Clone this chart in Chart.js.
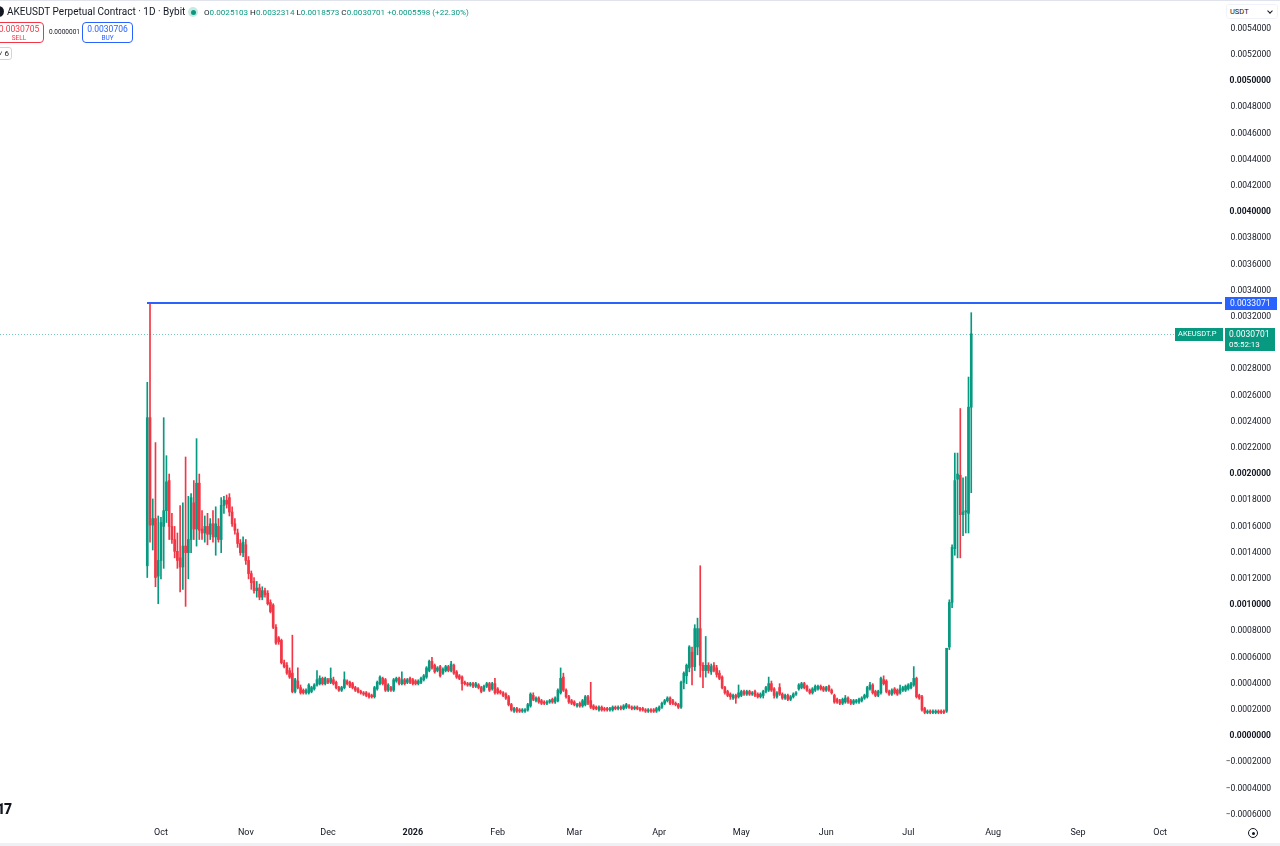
<!DOCTYPE html>
<html>
<head>
<meta charset="utf-8">
<title>AKEUSDT Perpetual Contract · 1D · Bybit</title>
<script src="https://cdn.jsdelivr.net/npm/chart.js@4.4.1/dist/chart.umd.min.js"></script>
<style>
  html, body { margin: 0; padding: 0; background: #fff; overflow: hidden; }
  #wrap { position: relative; width: 1280px; height: 846px; overflow: hidden;
          font-family: Roboto, "Liberation Sans", sans-serif; color: #131722; }
  #chart { position: absolute; left: 0; top: 0; }
  .abs { position: absolute; white-space: nowrap; }
  #topline { left: 0; top: 0; width: 1280px; height: 1px; background: #e0e3eb; }
  #botline { left: 0; top: 843px; width: 1280px; height: 3px; background: #eef0f4; }
  #logo { left: -7px; top: 6px; width: 11px; height: 11px; border-radius: 50%; background: #131722; }
  #title { left: 7px; top: 5px; font-size: 10px; line-height: 14px; }
  #dot { left: 188px; top: 7px; width: 10px; height: 10px; border-radius: 50%; background: rgba(8,153,129,0.22); }
  #dot i { position: absolute; left: 2.5px; top: 2.5px; width: 5px; height: 5px; border-radius: 50%; background: #089981; }
  #ohlc { left: 204px; top: 7px; font-size: 8.1px; line-height: 11px; }
  #ohlc b { font-weight: normal; color: #089981; }
  .btn { top: 22px; height: 21px; border: 1px solid; border-radius: 4px; text-align: center;
         font-size: 8.5px; line-height: 9px; padding-top: 1.5px; box-sizing: border-box; }
  .btn span { display: block; font-size: 6.5px; line-height: 9px; }
  #sell { left: -6px; width: 50px; border-color: #f23645; color: #f23645; }
  #buy { left: 82px; width: 51px; border-color: #2962ff; color: #2962ff; }
  #spread { left: 49px; top: 28px; font-size: 6.5px; line-height: 9px; }
  #lots { left: -4px; top: 47px; width: 16px; height: 13px; border: 1px solid #d1d4dc; border-radius: 3px;
          font-size: 8px; line-height: 12px; text-align: right; padding-right: 2px; box-sizing: border-box; }
  #unit { left: 1226px; top: 4px; width: 52px; height: 15px; border-radius: 3px; background: #fff;
          font-size: 7.5px; line-height: 14px; padding-left: 3px; box-sizing: border-box; border: 1px solid #f0f3fa; }
  #unit i { position: absolute; right: 5px; top: 4px; width: 3px; height: 3px;
            border-right: 1px solid #131722; border-bottom: 1px solid #131722; transform: rotate(45deg); }
  #tv { left: -3px; top: 801px; font-size: 14px; font-weight: 900; letter-spacing: -1px; line-height: 16px; }
  #gear { left: 1248px; top: 828px; width: 8px; height: 8px; border: 1.3px solid #131722; border-radius: 50%; }
  #gear i { position: absolute; left: 2.5px; top: 2.5px; width: 3px; height: 3px; border-radius: 50%; background: #131722; }
</style>
</head>
<body>
<div id="wrap">
  <canvas id="chart" width="1280" height="846"></canvas>
  <div id="topline" class="abs"></div>
  <div id="botline" class="abs"></div>
  <div id="logo" class="abs"></div>
  <div id="title" class="abs">AKEUSDT Perpetual Contract · 1D · Bybit</div>
  <div id="dot" class="abs"><i></i></div>
  <div id="ohlc" class="abs">O<b>0.0025103</b> H<b>0.0032314</b> L<b>0.0018573</b> C<b>0.0030701</b> <b>+0.0005598 (+22.30%)</b></div>
  <div id="sell" class="abs btn">0.0030705<span>SELL</span></div>
  <div id="spread" class="abs">0.0000001</div>
  <div id="buy" class="abs btn">0.0030706<span>BUY</span></div>
  <div id="lots" class="abs">˅ 6</div>
  <div id="unit" class="abs">USDT<i></i></div>
  <div id="tv" class="abs">17</div>
  <div id="gear" class="abs"><i></i></div>
</div>
<script>
// daily candles, first one on 26 Sep 2025
const firstCandleDate = '2025-09-26';

const opens = [
  0.00130,0.00243,0.00161,0.00166,0.00122,0.00134,0.00160,0.00172,0.00195,0.00160,
  0.00150,0.00141,0.00136,0.00129,0.00145,0.00140,0.00150,0.00178,0.00158,0.00193,
  0.00158,0.00155,0.00160,0.00154,0.00162,0.00152,0.00160,0.00150,0.00176,0.00180,
  0.00182,0.00171,0.00162,0.00155,0.00147,0.00140,0.00146,0.00134,0.00124,0.00118,
  0.00111,0.00113,0.00106,0.00111,0.00109,0.00102,0.00100,0.00083,0.00075,0.00073,
  0.00056,0.00054,0.00050,0.00048,0.00034,0.00042,0.00037,0.00035,0.00033,0.00033,
  0.00034,0.00036,0.00039,0.00040,0.00044,0.00040,0.00043,0.00041,0.00043,0.00041,
  0.00037,0.00035,0.00037,0.00042,0.00041,0.00040,0.00037,0.00036,0.00034,0.00033,
  0.00033,0.00032,0.00031,0.00030,0.00036,0.00040,0.00044,0.00043,0.00035,0.00037,
  0.00035,0.00042,0.00044,0.00040,0.00043,0.00041,0.00044,0.00043,0.00042,0.00040,
  0.00041,0.00043,0.00045,0.00050,0.00057,0.00054,0.00050,0.00053,0.00048,0.00050,
  0.00053,0.00050,0.00054,0.00049,0.00046,0.00045,0.00041,0.00040,0.00039,0.00040,
  0.00038,0.00039,0.00037,0.00035,0.00038,0.00040,0.00036,0.00040,0.00036,0.00034,
  0.00033,0.00032,0.00030,0.00024,0.00019,0.00021,0.00020,0.00019,0.00019,0.00020,
  0.00023,0.00031,0.00027,0.00029,0.00027,0.00026,0.00025,0.00026,0.00028,0.00026,
  0.00027,0.00033,0.00045,0.00035,0.00030,0.00027,0.00026,0.00023,0.00025,0.00023,
  0.00024,0.00030,0.00027,0.00023,0.00022,0.00020,0.00022,0.00021,0.00021,0.00020,
  0.00020,0.00022,0.00021,0.00022,0.00021,0.00022,0.00023,0.00022,0.00021,0.00022,
  0.00021,0.00021,0.00020,0.00019,0.00020,0.00020,0.00019,0.00020,0.00022,0.00025,
  0.00027,0.00029,0.00027,0.00025,0.00024,0.00022,0.00041,0.00046,0.00052,0.00064,
  0.00053,0.00068,0.00082,0.00054,0.00050,0.00054,0.00049,0.00054,0.00052,0.00048,
  0.00045,0.00037,0.00034,0.00032,0.00029,0.00031,0.00030,0.00031,0.00034,0.00032,
  0.00034,0.00032,0.00034,0.00032,0.00030,0.00031,0.00034,0.00035,0.00040,0.00036,
  0.00030,0.00037,0.00032,0.00029,0.00031,0.00028,0.00030,0.00032,0.00036,0.00037,
  0.00040,0.00038,0.00035,0.00033,0.00035,0.00036,0.00038,0.00037,0.00035,0.00038,
  0.00035,0.00031,0.00028,0.00027,0.00025,0.00026,0.00029,0.00027,0.00025,0.00026,
  0.00026,0.00027,0.00029,0.00030,0.00036,0.00039,0.00034,0.00031,0.00033,0.00043,
  0.00042,0.00034,0.00032,0.00036,0.00035,0.00033,0.00035,0.00035,0.00036,0.00037,
  0.00039,0.00044,0.00031,0.00030,0.00021,0.00018,0.00019,0.00018,0.00018,0.00019,
  0.00019,0.00019,0.00019,0.00068,0.00102,0.00143,0.00196,0.00199,0.00169,0.00171,
  0.00170,0.0025103
];

const highs = [
  0.00270,0.0033071,0.00181,0.00224,0.00168,0.00167,0.00243,0.00214,0.00200,0.00170,
  0.00160,0.00155,0.00176,0.00178,0.00213,0.00183,0.00185,0.00195,0.00227,0.00200,
  0.00172,0.00168,0.00170,0.00166,0.00172,0.00175,0.00166,0.00182,0.00183,0.00184,
  0.00185,0.00175,0.00166,0.00158,0.00150,0.00152,0.00150,0.00137,0.00126,0.00121,
  0.00118,0.00116,0.00114,0.00113,0.00111,0.00104,0.00101,0.00085,0.00076,0.00074,
  0.00058,0.00056,0.00052,0.00077,0.00044,0.00052,0.00039,0.00036,0.00036,0.00040,
  0.00038,0.00040,0.00050,0.00046,0.00045,0.00045,0.00044,0.00052,0.00045,0.00042,
  0.00038,0.00038,0.00049,0.00043,0.00042,0.00041,0.00038,0.00037,0.00035,0.00034,
  0.00034,0.00033,0.00032,0.00038,0.00042,0.00046,0.00045,0.00044,0.00040,0.00038,
  0.00044,0.00045,0.00045,0.00049,0.00044,0.00044,0.00045,0.00044,0.00043,0.00043,
  0.00045,0.00047,0.00053,0.00058,0.00060,0.00055,0.00053,0.00054,0.00052,0.00054,
  0.00054,0.00057,0.00055,0.00050,0.00047,0.00046,0.00042,0.00041,0.00041,0.00041,
  0.00041,0.00040,0.00038,0.00039,0.00041,0.00041,0.00041,0.00044,0.00037,0.00035,
  0.00034,0.00033,0.00031,0.00025,0.00022,0.00022,0.00021,0.00021,0.00021,0.00025,
  0.00033,0.00033,0.00030,0.00030,0.00028,0.00027,0.00027,0.00028,0.00029,0.00030,
  0.00036,0.00052,0.00048,0.00036,0.00031,0.00028,0.00027,0.00025,0.00026,0.00028,
  0.00031,0.00031,0.00041,0.00024,0.00023,0.00023,0.00023,0.00022,0.00022,0.00022,
  0.00023,0.00023,0.00023,0.00023,0.00024,0.00025,0.00024,0.00023,0.00023,0.00023,
  0.00022,0.00022,0.00021,0.00021,0.00021,0.00021,0.00022,0.00023,0.00026,0.00028,
  0.00030,0.00030,0.00028,0.00026,0.00025,0.00042,0.00049,0.00055,0.00069,0.00068,
  0.00085,0.00090,0.00130,0.00056,0.00076,0.00056,0.00055,0.00056,0.00054,0.00050,
  0.00046,0.00038,0.00035,0.00033,0.00032,0.00032,0.00039,0.00035,0.00035,0.00035,
  0.00035,0.00034,0.00035,0.00033,0.00033,0.00035,0.00038,0.00045,0.00042,0.00037,
  0.00034,0.00040,0.00033,0.00032,0.00032,0.00031,0.00033,0.00034,0.00040,0.00041,
  0.00041,0.00039,0.00036,0.00037,0.00039,0.00039,0.00039,0.00038,0.00038,0.00039,
  0.00036,0.00032,0.00029,0.00028,0.00029,0.00031,0.00030,0.00028,0.00028,0.00028,
  0.00029,0.00030,0.00032,0.00038,0.00041,0.00040,0.00035,0.00035,0.00045,0.00046,
  0.00043,0.00035,0.00036,0.00037,0.00036,0.00039,0.00038,0.00039,0.00040,0.00041,
  0.00053,0.00045,0.00032,0.00031,0.00022,0.00020,0.00020,0.00020,0.00020,0.00020,
  0.00020,0.00020,0.00067,0.00104,0.00146,0.00216,0.00216,0.00250,0.00197,0.00198,
  0.00274,0.0032314
];

const lows = [
  0.00121,0.00148,0.00142,0.00114,0.00101,0.00120,0.00128,0.00163,0.00150,0.00147,
  0.00136,0.00128,0.00110,0.00112,0.00099,0.00120,0.00140,0.00150,0.00145,0.00150,
  0.00150,0.00148,0.00146,0.00150,0.00148,0.00138,0.00148,0.00140,0.00170,0.00174,
  0.00168,0.00160,0.00154,0.00144,0.00138,0.00137,0.00131,0.00120,0.00112,0.00109,
  0.00106,0.00104,0.00104,0.00106,0.00100,0.00094,0.00082,0.00070,0.00070,0.00055,
  0.00052,0.00047,0.00044,0.00033,0.00033,0.00036,0.00032,0.00032,0.00032,0.00032,
  0.00033,0.00035,0.00038,0.00039,0.00039,0.00039,0.00040,0.00040,0.00039,0.00036,
  0.00034,0.00034,0.00036,0.00039,0.00037,0.00036,0.00034,0.00033,0.00032,0.00031,
  0.00030,0.00029,0.00029,0.00029,0.00035,0.00039,0.00039,0.00034,0.00034,0.00034,
  0.00034,0.00041,0.00039,0.00039,0.00039,0.00040,0.00040,0.00039,0.00039,0.00039,
  0.00040,0.00042,0.00044,0.00049,0.00051,0.00048,0.00049,0.00045,0.00047,0.00049,
  0.00049,0.00049,0.00047,0.00044,0.00043,0.00035,0.00039,0.00038,0.00038,0.00037,
  0.00037,0.00036,0.00033,0.00034,0.00037,0.00034,0.00035,0.00032,0.00032,0.00032,
  0.00030,0.00028,0.00023,0.00019,0.00018,0.00018,0.00018,0.00018,0.00018,0.00019,
  0.00022,0.00027,0.00026,0.00025,0.00024,0.00024,0.00024,0.00025,0.00025,0.00025,
  0.00026,0.00032,0.00034,0.00029,0.00025,0.00024,0.00023,0.00022,0.00022,0.00022,
  0.00023,0.00024,0.00021,0.00020,0.00020,0.00019,0.00019,0.00019,0.00019,0.00019,
  0.00019,0.00020,0.00020,0.00020,0.00020,0.00021,0.00021,0.00020,0.00020,0.00020,
  0.00019,0.00019,0.00018,0.00018,0.00018,0.00018,0.00018,0.00019,0.00021,0.00024,
  0.00026,0.00024,0.00024,0.00023,0.00021,0.00021,0.00036,0.00040,0.00049,0.00039,
  0.00050,0.00062,0.00045,0.00037,0.00045,0.00048,0.00047,0.00049,0.00045,0.00043,
  0.00036,0.00032,0.00030,0.00028,0.00028,0.00025,0.00029,0.00030,0.00031,0.00031,
  0.00031,0.00031,0.00030,0.00029,0.00029,0.00029,0.00033,0.00034,0.00034,0.00029,
  0.00029,0.00031,0.00028,0.00028,0.00027,0.00027,0.00029,0.00031,0.00035,0.00036,
  0.00036,0.00034,0.00032,0.00032,0.00034,0.00035,0.00035,0.00034,0.00034,0.00034,
  0.00032,0.00025,0.00025,0.00024,0.00024,0.00025,0.00025,0.00024,0.00024,0.00025,
  0.00025,0.00026,0.00028,0.00029,0.00035,0.00032,0.00030,0.00030,0.00032,0.00039,
  0.00033,0.00031,0.00031,0.00032,0.00031,0.00032,0.00034,0.00034,0.00035,0.00036,
  0.00038,0.00029,0.00028,0.00019,0.00017,0.00017,0.00017,0.00017,0.00017,0.00017,
  0.00017,0.00017,0.00018,0.00066,0.00098,0.00138,0.00136,0.00136,0.00153,0.00155,
  0.00155,0.0018573
];

const closes = [
  0.00243,0.00161,0.00166,0.00121,0.00134,0.00163,0.00172,0.00194,0.00160,0.00150,
  0.00141,0.00134,0.00129,0.00145,0.00140,0.00150,0.00182,0.00158,0.00193,0.00157,
  0.00155,0.00160,0.00154,0.00162,0.00152,0.00162,0.00150,0.00176,0.00180,0.00177,
  0.00171,0.00162,0.00157,0.00147,0.00140,0.00148,0.00134,0.00124,0.00117,0.00111,
  0.00113,0.00106,0.00111,0.00108,0.00101,0.00095,0.00083,0.00071,0.00072,0.00056,
  0.00053,0.00048,0.00045,0.00034,0.00043,0.00037,0.00033,0.00033,0.00035,0.00039,
  0.00037,0.00039,0.00043,0.00044,0.00040,0.00044,0.00041,0.00044,0.00040,0.00037,
  0.00035,0.00037,0.00043,0.00040,0.00038,0.00037,0.00035,0.00034,0.00033,0.00032,
  0.00031,0.00030,0.00030,0.00037,0.00041,0.00045,0.00040,0.00035,0.00039,0.00035,
  0.00043,0.00044,0.00040,0.00043,0.00040,0.00043,0.00041,0.00040,0.00040,0.00042,
  0.00044,0.00046,0.00052,0.00057,0.00052,0.00049,0.00052,0.00046,0.00051,0.00053,
  0.00050,0.00055,0.00048,0.00045,0.00044,0.00040,0.00040,0.00039,0.00040,0.00038,
  0.00040,0.00037,0.00034,0.00038,0.00040,0.00035,0.00040,0.00033,0.00033,0.00033,
  0.00031,0.00029,0.00024,0.00020,0.00021,0.00019,0.00019,0.00020,0.00020,0.00024,
  0.00032,0.00028,0.00029,0.00026,0.00025,0.00025,0.00026,0.00027,0.00026,0.00029,
  0.00035,0.00044,0.00035,0.00030,0.00026,0.00025,0.00024,0.00024,0.00023,0.00027,
  0.00030,0.00025,0.00022,0.00021,0.00021,0.00022,0.00020,0.00020,0.00020,0.00021,
  0.00022,0.00021,0.00022,0.00021,0.00023,0.00024,0.00022,0.00021,0.00022,0.00021,
  0.00020,0.00020,0.00019,0.00020,0.00019,0.00019,0.00021,0.00022,0.00025,0.00027,
  0.00029,0.00025,0.00025,0.00024,0.00022,0.00041,0.00048,0.00054,0.00068,0.00053,
  0.00082,0.00082,0.00054,0.00050,0.00054,0.00050,0.00053,0.00050,0.00047,0.00044,
  0.00037,0.00033,0.00031,0.00030,0.00031,0.00029,0.00033,0.00034,0.00032,0.00034,
  0.00032,0.00033,0.00031,0.00030,0.00032,0.00034,0.00037,0.00040,0.00035,0.00031,
  0.00033,0.00032,0.00029,0.00031,0.00028,0.00030,0.00032,0.00033,0.00039,0.00040,
  0.00037,0.00035,0.00033,0.00036,0.00038,0.00038,0.00036,0.00035,0.00037,0.00035,
  0.00033,0.00026,0.00026,0.00025,0.00028,0.00029,0.00026,0.00025,0.00027,0.00027,
  0.00028,0.00029,0.00031,0.00037,0.00039,0.00033,0.00031,0.00034,0.00044,0.00040,
  0.00034,0.00032,0.00035,0.00033,0.00032,0.00036,0.00037,0.00038,0.00039,0.00040,
  0.00044,0.00030,0.00029,0.00020,0.00018,0.00019,0.00018,0.00019,0.00019,0.00018,
  0.00018,0.00018,0.00067,0.00102,0.00144,0.00195,0.00200,0.00169,0.00171,0.00172,
  0.00251,0.0030701
];

// time axis labels
const monthTickDates = ['2025-10-01','2025-11-01','2025-12-01','2026-01-01','2026-02-01','2026-03-01',
  '2026-04-01','2026-05-01','2026-06-01','2026-07-01','2026-08-01','2026-09-01','2026-10-01'];
const monthTickLabels = ['Oct','Nov','Dec','2026','Feb','Mar','Apr','May','Jun','Jul','Aug','Sep','Oct'];

// horizontal levels
const athLevel = 0.0033071;
const athIndex = 1;
const lastPrice = 0.0030701;
const countdown = '05:52:13';
const symbolTag = 'AKEUSDT.P';

const UP = '#089981';
const DOWN = '#f23645';
const BLUE = '#2962ff';
const FONT = 'Roboto, "Liberation Sans", sans-serif';

// days since 1 Oct 2025
const dayOf = s => (Date.parse(s) - Date.parse('2025-10-01')) / 86400000;
const firstDay = dayOf(firstCandleDate);
const candleDays = opens.map((_, i) => firstDay + i);
const colors = opens.map((o, i) => closes[i] >= o ? UP : DOWN);
const monthTicks = monthTickDates.map(dayOf);

const isMajor = v => Math.abs(v * 1000 - Math.round(v * 1000)) < 1e-6;
const fmtPrice = v => (v < -1e-12 ? '\u2212' : '') + Math.abs(v).toFixed(7);

const priceLines = {
  id: 'priceLines',
  beforeDatasetsDraw(chart) {
    const { ctx, chartArea: a, scales: { y } } = chart;
    const yl = Math.round(y.getPixelForValue(lastPrice)) + 0.5;
    ctx.save();
    ctx.strokeStyle = 'rgba(8,153,129,0.55)';
    ctx.lineWidth = 1;
    ctx.setLineDash([1, 2]);
    ctx.beginPath();
    ctx.moveTo(a.left, yl);
    ctx.lineTo(a.right, yl);
    ctx.stroke();
    ctx.restore();
  },
  afterDatasetsDraw(chart) {
    const { ctx, chartArea: a, scales: { x, y } } = chart;
    const ya = Math.round(y.getPixelForValue(athLevel));
    const xa = x.getPixelForValue(candleDays[athIndex]) - 3;
    ctx.save();
    ctx.strokeStyle = BLUE;
    ctx.lineWidth = 2;
    ctx.beginPath();
    ctx.moveTo(xa, ya);
    ctx.lineTo(a.right, ya);
    ctx.stroke();
    ctx.restore();
  },
  afterDraw(chart) {
    const { ctx, chartArea: a, scales: { y } } = chart;
    ctx.save();
    ctx.textBaseline = 'middle';
    ctx.textAlign = 'left';

    // ath level tag
    const ya = Math.round(y.getPixelForValue(athLevel));
    ctx.fillStyle = BLUE;
    ctx.fillRect(a.right + 3, ya - 6, 52, 13);
    ctx.fillStyle = '#fff';
    ctx.font = '8.5px ' + FONT;
    ctx.fillText(fmtPrice(athLevel), a.right + 8, ya + 0.5);

    // last price tag + countdown
    const yl = Math.round(y.getPixelForValue(lastPrice));
    ctx.fillStyle = UP;
    ctx.fillRect(a.right + 3, yl - 6, 50, 23);
    ctx.fillRect(a.right - 47, yl - 6, 48, 13);
    ctx.fillStyle = '#fff';
    ctx.fillText(fmtPrice(lastPrice), a.right + 7, yl + 0.5);
    ctx.font = '8px ' + FONT;
    ctx.fillText(countdown, a.right + 7, yl + 11);
    ctx.font = '7.5px ' + FONT;
    ctx.fillText(symbolTag, a.right - 44, yl + 0.5);
    ctx.restore();
  }
};

new Chart(document.getElementById('chart'), {
  type: 'bar',
  data: {
    datasets: [
      {
        label: 'body',
        data: candleDays.map((d, i) => ({ x: d, y: [opens[i], closes[i]] })),
        backgroundColor: colors,
        barThickness: 2,
        minBarLength: 1,
        grouped: false,
        borderWidth: 0
      },
      {
        label: 'wick',
        data: candleDays.map((d, i) => ({ x: d, y: [lows[i], highs[i]] })),
        backgroundColor: colors,
        barThickness: 1,
        grouped: false,
        borderWidth: 0
      }
    ]
  },
  options: {
    responsive: false,
    animation: false,
    // right padding keeps the right-aligned price labels off the edge
    layout: { padding: { left: 0, top: 0, bottom: 0, right: 9 } },
    plugins: { legend: { display: false }, tooltip: { enabled: false } },
    scales: {
      x: {
        type: 'linear',
        offset: false,
        min: -58.8,
        max: 387.6,
        grid: { display: false, drawTicks: false },
        border: { display: false },
        afterBuildTicks: s => { s.ticks = monthTicks.map(v => ({ value: v })); },
        afterFit: s => { s.height = 24; s.paddingLeft = 0; s.paddingRight = 0; },
        ticks: {
          autoSkip: false,
          maxRotation: 0,
          padding: 5,
          color: '#131722',
          font: ctx => ({ family: FONT, size: 9,
            weight: ctx.tick && ctx.tick.label === '2026' ? 'bold' : 'normal' }),
          callback: v => monthTickLabels[monthTicks.indexOf(v)]
        }
      },
      y: {
        position: 'right',
        min: -0.000656,
        max: 0.005618,
        grid: { display: false, drawTicks: false },
        border: { display: false },
        afterFit: s => { s.width = 49; s.paddingTop = 0; s.paddingBottom = 0; },
        ticks: {
          stepSize: 0.0002,
          maxTicksLimit: 100,
          includeBounds: false,
          autoSkip: false,
          crossAlign: 'far',
          padding: 0,
          color: '#131722',
          font: ctx => ({ family: FONT, size: 8.5,
            weight: ctx.tick && isMajor(ctx.tick.value) ? 'bold' : 'normal' }),
          // the top level sits under the currency selector and is not shown
          callback: v => v > 0.0055 ? '' : fmtPrice(v)
        }
      }
    }
  },
  plugins: [priceLines]
});
</script>
</body>
</html>
